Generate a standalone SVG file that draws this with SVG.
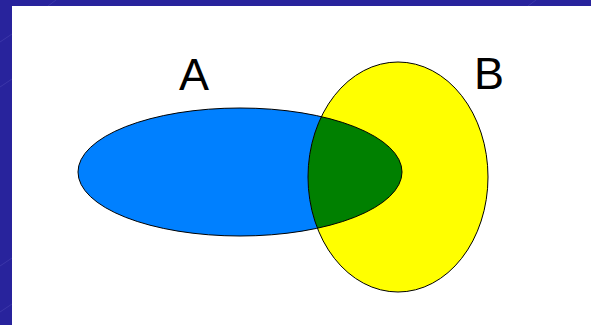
<svg xmlns="http://www.w3.org/2000/svg" width="591" height="325" viewBox="0 0 591 325">
<defs>
<style>
.lbl{font-family:"Liberation Sans",Arial,sans-serif;font-size:45px;fill:#000}
.ol{fill:none;stroke:#000;stroke-width:1}
</style>
<clipPath id="clipB"><ellipse cx="398" cy="177" rx="90" ry="115"/></clipPath>
</defs>
<rect x="0" y="0" width="591" height="325" fill="#28239C"/>
<g stroke="#5a58c0" stroke-width="0.6" opacity="0.6">
<line x1="0" y1="42" x2="12" y2="34"/>
<line x1="0" y1="87" x2="12" y2="79"/>
<line x1="0" y1="266" x2="12" y2="258"/>
<line x1="0" y1="312" x2="12" y2="304"/>
<line x1="48" y1="6" x2="56" y2="0"/>
<line x1="528" y1="6" x2="536" y2="0"/>
</g>
<rect x="12" y="6" width="579" height="319" fill="#fff"/>
<g id="setA">
<ellipse cx="240" cy="172" rx="162" ry="64" fill="#0080FF"/>
</g>
<g id="setB">
<ellipse cx="398" cy="177" rx="90" ry="115" fill="#FFFF00"/>
</g>
<g id="intersection">
<ellipse cx="240" cy="172" rx="162" ry="64" fill="#008000" clip-path="url(#clipB)"/>
</g>
<g id="outlines">
<ellipse class="ol" cx="240" cy="172" rx="162" ry="64"/>
<ellipse class="ol" cx="398" cy="177" rx="90" ry="115"/>
</g>
<g id="labelA"><text class="lbl" x="179" y="90">A</text></g>
<g id="labelB"><text class="lbl" x="474" y="89">B</text></g>
</svg>
